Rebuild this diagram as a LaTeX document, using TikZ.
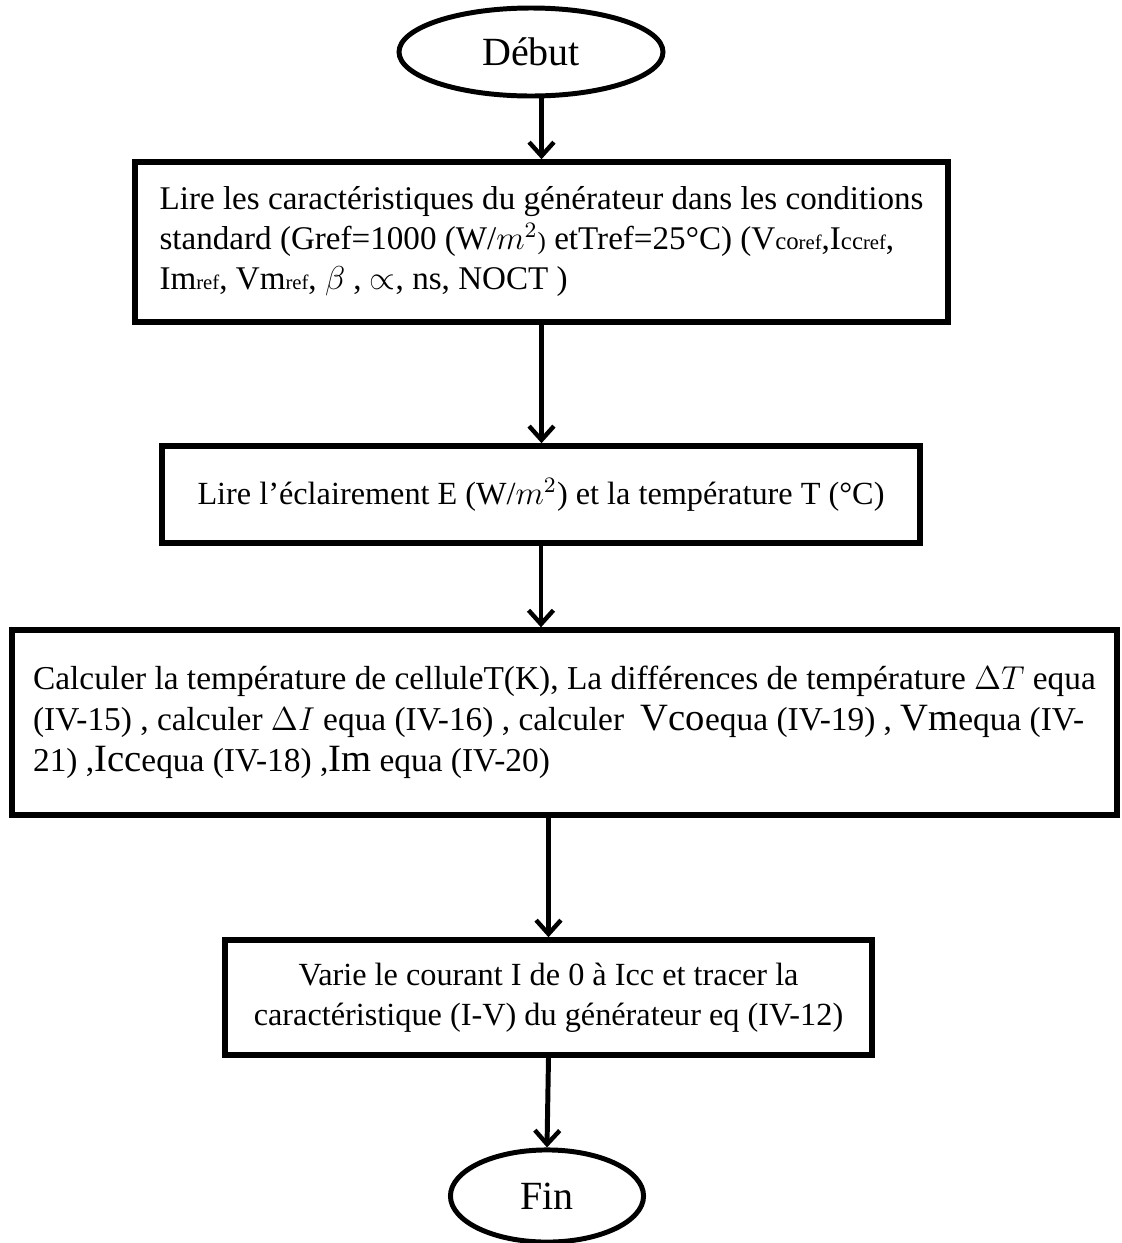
\documentclass[tikz,border=0pt]{standalone}
\usepackage{amsmath}
\usepackage{amssymb}
\usepackage{fontspec}
\setmainfont{Liberation Serif}
\usepackage{tikz}
\usetikzlibrary{shapes.geometric, arrows.meta}

\newcommand{\gros}[1]{{\fontsize{14}{14}\selectfont #1}}
\newcommand{\petit}[1]{{\fontsize{9}{9}\selectfont #1}}
\newcommand{\indref}{{\fontsize{7.5}{8}\selectfont ref}}

\begin{document}
\begin{tikzpicture}[x=0.3625pt, y=-0.3625pt,
    terminal/.style={draw, ellipse, line width=1.8pt, inner sep=0pt,
        font=\fontsize{14.5}{16}\selectfont},
    boite/.style={draw, rectangle, line width=2pt, inner sep=0pt,
        font=\fontsize{11.7}{14.5}\selectfont},
    fleche/.style={line width=1.8pt, -{Straight Barb[length=5pt,width=9pt,line width=1.6pt]}}]

        % Fix the page to the size of the figure
        \useasboundingbox (0,0) rectangle (1121,1243);

        % Start and end of the flowchart
        \node[terminal, minimum width=95.7pt, minimum height=31.9pt] (debut) at (531,52) {Début};
        \node[terminal, minimum width=70pt, minimum height=33.4pt] (fin) at (547,1196) {Fin};

        % Reading the standard conditions
        \node[boite, minimum width=294.7pt, minimum height=58pt, align=left,
              font=\fontsize{12}{14.5}\selectfont] (lecture) at (541.5,242)
            {Lire les caractéristiques du générateur dans les conditions\\
             standard (Gref=1000 (W/$m^2$\petit{)} etTref=25°C) (V\petit{co}\indref,I\petit{cc}\indref,\\
             Im\indref, Vm\indref, $\beta$ , $\propto$, ns, NOCT )};

        % Reading irradiance and temperature
        \node[boite, minimum width=274.8pt, minimum height=35.2pt, align=center] (mesure) at (541,494.5)
            {Lire l’éclairement E (W/$m^2$) et la température T (°C)};

        % Computing the cell quantities
        \node[boite, minimum width=400.6pt, minimum height=67pt, align=left,
              font=\fontsize{12.1}{14.85}\selectfont] (calcul) at (564.5,722.5)
            {Calculer la température de celluleT(K), La différences de température $\Delta T$ equa\\
             (IV-15) , calculer $\Delta I$ equa (IV-16) , calculer \ \gros{Vco}equa (IV-19) , \gros{Vm}equa (IV-\\
             21) ,\gros{Icc}equa (IV-18) ,\gros{Im} equa (IV-20)};

        % Plotting the I-V characteristic
        \node[boite, minimum width=234.5pt, minimum height=41.7pt, align=center] (trace) at (548.5,997.5)
            {Varie le courant I de 0 à Icc et tracer la\\
             caractéristique (I-V) du générateur eq (IV-12)};

        % Arrows between the steps
        \draw[fleche] (lecture.north |- debut.south) -- (lecture.north);
        \draw[fleche] (lecture.south) -- (lecture.south |- mesure.north);
        \draw[fleche] (mesure.south) -- (mesure.south |- calcul.north);
        \draw[fleche] (trace.north |- calcul.south) -- (trace.north);
        \draw[fleche] (trace.south) -- (fin.north);

    \end{tikzpicture}
\end{document}
